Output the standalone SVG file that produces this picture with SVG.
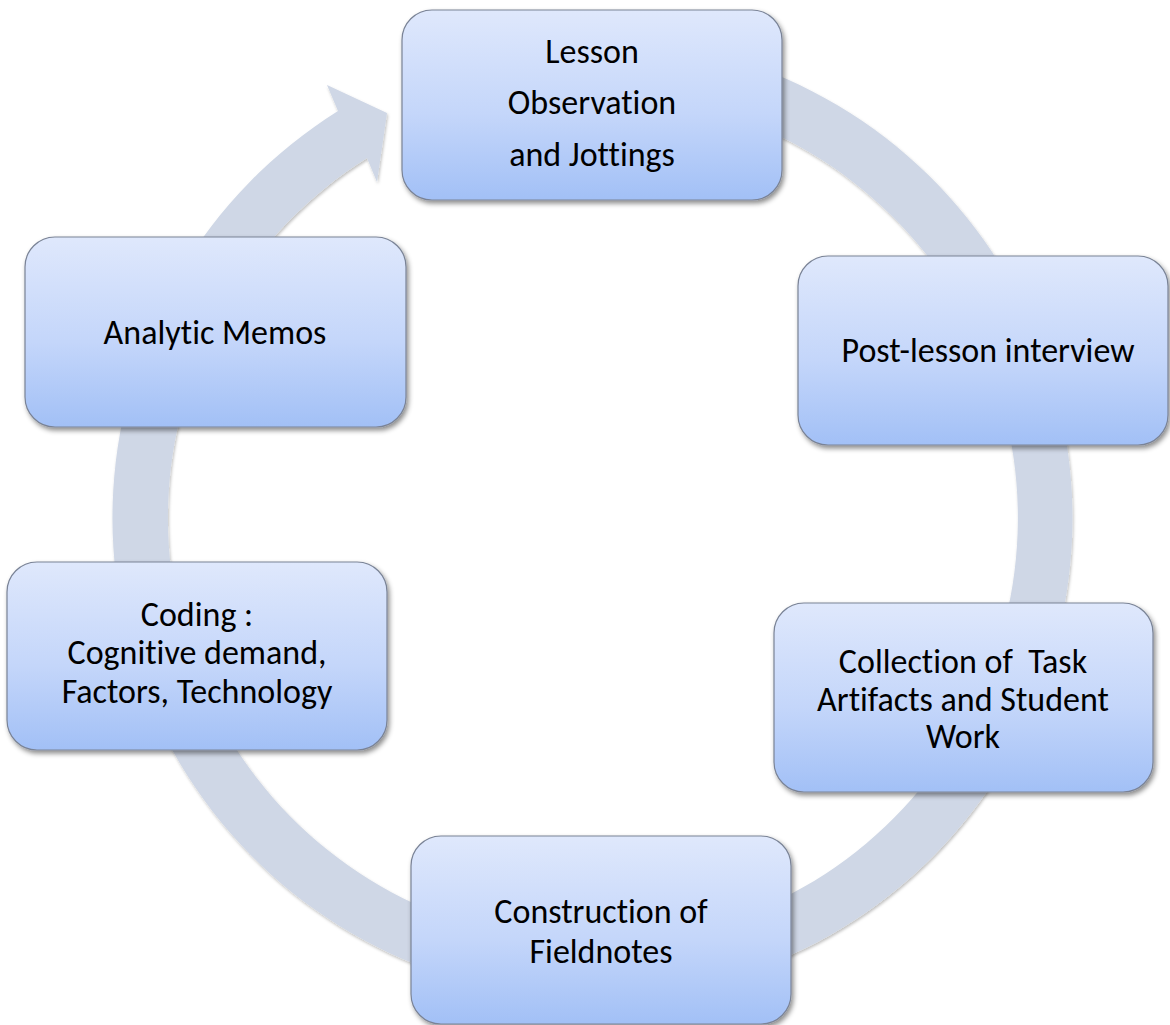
<svg xmlns="http://www.w3.org/2000/svg" width="1170" height="1025" viewBox="0 0 1170 1025">
  <defs>
    <linearGradient id="boxFill" x1="0" y1="0" x2="0" y2="1">
      <stop offset="0" stop-color="#DFE8FC"/>
      <stop offset="0.55" stop-color="#C4D6FA"/>
      <stop offset="1" stop-color="#A2C0F6"/>
    </linearGradient>
    <filter id="boxShadow" x="-10%" y="-10%" width="125%" height="130%">
      <feDropShadow dx="2" dy="3" stdDeviation="2.5" flood-color="#000" flood-opacity="0.45"/>
    </filter>
    <filter id="ringShadow" x="-5%" y="-5%" width="110%" height="110%">
      <feDropShadow dx="1" dy="2" stdDeviation="1.5" flood-color="#000" flood-opacity="0.25"/>
    </filter>
  </defs>
  <style>
    .box { fill: url(#boxFill); stroke: #7A8396; stroke-width: 1.2; filter: url(#boxShadow); }
    .label { font-family: Calibri, Carlito, Lato, sans-serif; font-size: 34px; fill: #000; text-anchor: middle; font-variant-ligatures: none; }
    .ring { fill: #CFD7E6; filter: url(#ringShadow); }
  </style>
  <rect width="1170" height="1025" fill="#FFFFFF"/>

  <!-- circular flow arrow, centre (592,518) -->
  <g id="connectors">
    <path class="ring" d="M 592 38 A 480 480 0 1 1 338 111 L 327 85 L 387 113 L 377 182 L 367 158 A 425 425 0 1 0 592 93 Z"/>
  </g>

  <g id="node-observation">
    <rect class="box" x="402" y="10" width="380" height="190" rx="30" ry="30"/>
    <text class="label" x="592" y="63">Lesson</text>
    <text class="label" x="592" y="114">Observation</text>
    <text class="label" x="592" y="166">and Jottings</text>
  </g>

  <g id="node-interview">
    <rect class="box" x="798" y="256" width="370" height="189" rx="30" ry="30"/>
    <text class="label" x="988" y="362">Post-lesson interview</text>
  </g>

  <g id="node-artifacts">
    <rect class="box" x="774" y="603" width="379" height="189" rx="30" ry="30"/>
    <text class="label" x="963" y="673" xml:space="preserve">Collection of  Task</text>
    <text class="label" x="963" y="711">Artifacts and Student</text>
    <text class="label" x="963" y="748">Work</text>
  </g>

  <g id="node-fieldnotes">
    <rect class="box" x="411" y="836" width="380" height="188" rx="30" ry="30"/>
    <text class="label" x="601" y="923">Construction of</text>
    <text class="label" x="601" y="963">Fieldnotes</text>
  </g>

  <g id="node-coding">
    <rect class="box" x="7" y="562" width="380" height="188" rx="30" ry="30"/>
    <text class="label" x="197" y="626">Coding :</text>
    <text class="label" x="197" y="664">Cognitive demand,</text>
    <text class="label" x="197" y="703">Factors, Technology</text>
  </g>

  <g id="node-memos">
    <rect class="box" x="25" y="237" width="381" height="190" rx="30" ry="30"/>
    <text class="label" x="215" y="344">Analytic Memos</text>
  </g>
</svg>
